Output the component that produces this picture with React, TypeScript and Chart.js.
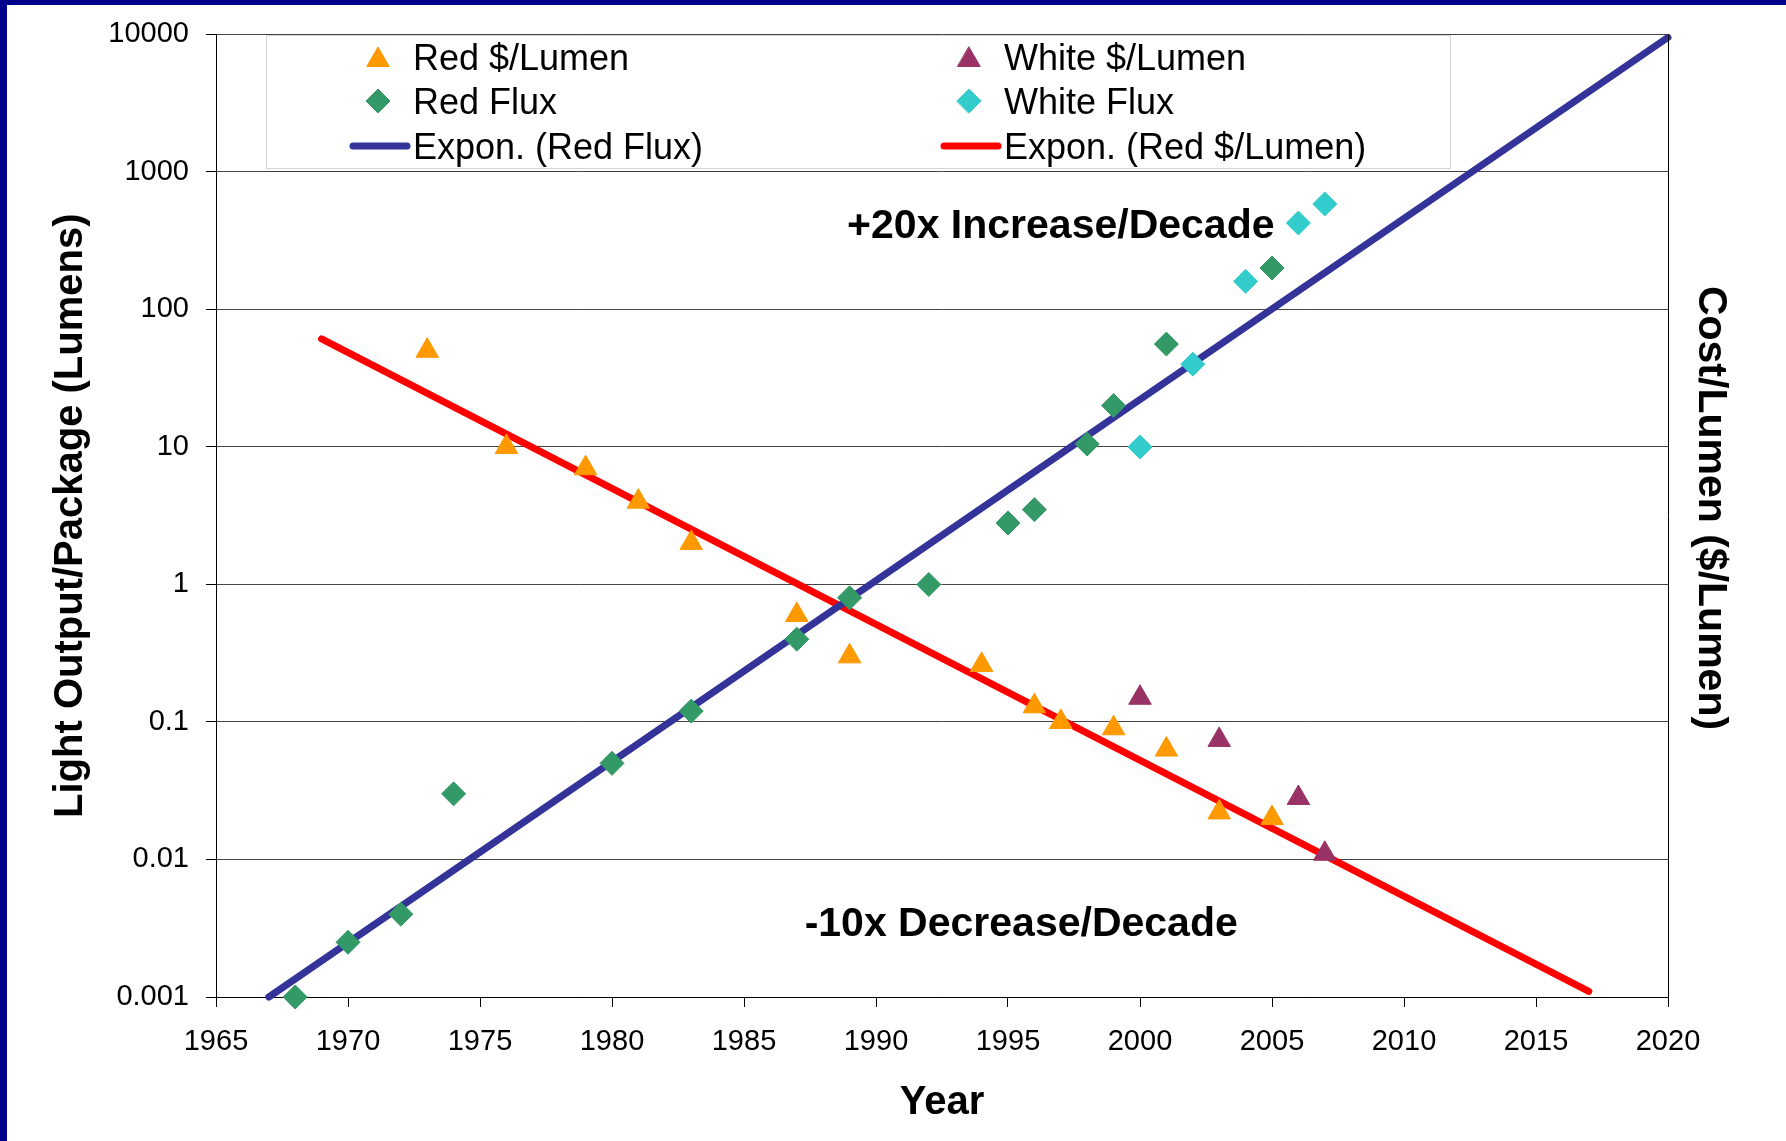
import React, { useEffect, useRef } from 'react';
import { Chart, registerables } from 'chart.js';
import { drawPoint } from 'chart.js/helpers';

Chart.register(...registerables);

const FONT = "'Liberation Sans', Arial, Helvetica, sans-serif";

// ---- data ----
const redCostYears = [1973, 1976, 1979, 1981, 1983, 1987, 1989, 1994, 1996, 1997, 1999, 2001, 2003, 2005];
const redCostValues = [50, 10, 7, 4, 2, 0.6, 0.3, 0.26, 0.13, 0.1, 0.09, 0.063, 0.022, 0.02];
const whiteCostYears = [2000, 2003, 2006, 2007];
const whiteCostValues = [0.15, 0.074, 0.028, 0.011];
const redFluxYears = [1968, 1970, 1972, 1974, 1980, 1983, 1987, 1989, 1992, 1995, 1996, 1998, 1999, 2001, 2005];
const redFluxValues = [0.001, 0.0025, 0.004, 0.03, 0.05, 0.12, 0.4, 0.8, 1, 2.8, 3.5, 10.5, 20, 56, 200];
const whiteFluxYears = [2000, 2002, 2004, 2006, 2007];
const whiteFluxValues = [10, 40, 160, 425, 585];
const fluxTrendYears = [1967, 2020];
const fluxTrendValues = [0.001, 9500];
const costTrendYears = [1969, 2017];
const costTrendValues = [61, 0.0011];

const xTickValues = [1965, 1970, 1975, 1980, 1985, 1990, 1995, 2000, 2005, 2010, 2015, 2020];
const yTickValues = [0.001, 0.01, 0.1, 1, 10, 100, 1000, 10000];
const yTickLabels = ['0.001', '0.01', '0.1', '1', '10', '100', '1000', '10000'];

const seriesLabels = [
  'Red $/Lumen',
  'White $/Lumen',
  'Red Flux',
  'White Flux',
  'Expon. (Red Flux)',
  'Expon. (Red $/Lumen)',
];

const titleLeft = 'Light Output/Package (Lumens)';
const titleRight = 'Cost/Lumen ($/Lumen)';
const titleBottom = 'Year';
const annotationTexts = ['+20x Increase/Decade', '-10x Decrease/Decade'];
const annotationYears = [1997, 1995.5];
const annotationValues = [330, 0.0028];

// ---- colours ----
const ORANGE = '#FF9900';
const PURPLE = '#993366';
const GREEN = '#339966';
const CYAN = '#33CCCC';
const BLUE = '#333399';
const RED = '#FF0000';
const NAVY = '#00008B';

const toPoints = (xs: number[], ys: number[]) => xs.map((x, i) => ({ x, y: ys[i] }));

export default function App() {
  const ref = useRef<HTMLCanvasElement>(null);

  useEffect(() => {
    const canvas = ref.current;
    if (!canvas) return;

    const decor = {
      id: 'decor',
      beforeDraw(chart: any) {
        const { ctx, width, height } = chart;
        ctx.save();
        ctx.fillStyle = '#ffffff';
        ctx.fillRect(0, 0, width, height);
        ctx.restore();
      },
      afterDraw(chart: any) {
        const { ctx, chartArea } = chart;
        const xs = chart.scales.x;
        const ys = chart.scales.y;
        ctx.save();

        // right border of plot
        ctx.strokeStyle = '#000';
        ctx.lineWidth = 1;
        const rx = Math.floor(chartArea.right) + 0.5;
        ctx.beginPath();
        ctx.moveTo(rx, chartArea.top);
        ctx.lineTo(rx, chartArea.bottom);
        ctx.stroke();

        // legend box
        const lbLeft = 266.5;
        const lbTop = Math.floor(chartArea.top) + 1.5;
        const lbRight = 1450.5;
        const lbBottom = 168.5;
        ctx.fillStyle = '#fff';
        ctx.fillRect(lbLeft, lbTop, lbRight - lbLeft, lbBottom - lbTop);
        ctx.strokeStyle = '#d4d4d4';
        ctx.strokeRect(lbLeft, lbTop, lbRight - lbLeft, lbBottom - lbTop);

        const legendFont = 36;
        const rowsCap = [57, 101, 146];
        const colText = [413, 1004];
        const ds = chart.data.datasets;
        const layout = [
          { d: 0, col: 0, row: 0 },
          { d: 2, col: 0, row: 1 },
          { d: 4, col: 0, row: 2 },
          { d: 1, col: 1, row: 0 },
          { d: 3, col: 1, row: 1 },
          { d: 5, col: 1, row: 2 },
        ];
        ctx.font = `${legendFont}px ${FONT}`;
        ctx.textAlign = 'left';
        ctx.textBaseline = 'alphabetic';
        for (const it of layout) {
          const d = ds[it.d];
          const tx = colText[it.col];
          const cy = rowsCap[it.row];
          if (d.showLine) {
            ctx.strokeStyle = d.borderColor;
            ctx.lineWidth = 7;
            ctx.lineCap = 'round';
            ctx.beginPath();
            ctx.moveTo(tx - 60, cy);
            ctx.lineTo(tx - 6, cy);
            ctx.stroke();
          } else {
            ctx.fillStyle = d.backgroundColor;
            ctx.strokeStyle = d.borderColor;
            ctx.lineWidth = 1;
            drawPoint(ctx, { pointStyle: d.pointStyle, radius: d.pointRadius, rotation: 0, borderWidth: 1 }, tx - 35, cy + (d.pointStyle === 'triangle' ? 3 : 0));
          }
          ctx.fillStyle = '#000';
          ctx.fillText(d.label, tx, cy + legendFont * 0.358);
        }

        // annotations
        ctx.font = `bold 41px ${FONT}`;
        ctx.fillStyle = '#000';
        ctx.textAlign = 'center';
        ctx.textBaseline = 'alphabetic';
        annotationTexts.forEach((t, i) => {
          ctx.fillText(t, xs.getPixelForValue(annotationYears[i]), ys.getPixelForValue(annotationValues[i]));
        });

        // axis titles
        ctx.font = `bold 40px ${FONT}`;
        ctx.textBaseline = 'middle';
        ctx.textAlign = 'center';
        ctx.fillText(titleBottom, (chartArea.left + chartArea.right) / 2, 1103);

        ctx.save();
        ctx.translate(71, (chartArea.top + chartArea.bottom) / 2);
        ctx.rotate(-Math.PI / 2);
        ctx.fillText(titleLeft, 0, 0);
        ctx.restore();

        ctx.font = `bold 41px ${FONT}`;
        ctx.save();
        ctx.translate(1710, 508);
        ctx.rotate(Math.PI / 2);
        ctx.fillText(titleRight, 0, 0);
        ctx.restore();

        // navy frame (top and left)
        ctx.fillStyle = NAVY;
        ctx.fillRect(0, 0, chart.width, 5);
        ctx.fillRect(0, 0, 7, chart.height);

        ctx.restore();
      },
    };

    const scatterDs = (label: string, xs: number[], ys: number[], color: string, style: string, r: number) => ({
      label,
      data: toPoints(xs, ys),
      showLine: false,
      pointStyle: style,
      pointRadius: r,
      pointHoverRadius: r,
      backgroundColor: color,
      borderColor: color,
      pointBorderWidth: 1,
      clip: false,
    });

    const trendDs = (label: string, xs: number[], ys: number[], color: string) => ({
      label,
      data: toPoints(xs, ys),
      showLine: true,
      pointRadius: 0,
      pointHoverRadius: 0,
      borderColor: color,
      backgroundColor: color,
      borderWidth: 7,
      borderCapStyle: 'round',
      fill: false,
      clip: false,
    });

    const chart = new Chart(canvas, {
      type: 'scatter',
      data: {
        datasets: [
          scatterDs(seriesLabels[0], redCostYears, redCostValues, ORANGE, 'triangle', 13),
          scatterDs(seriesLabels[1], whiteCostYears, whiteCostValues, PURPLE, 'triangle', 13),
          scatterDs(seriesLabels[2], redFluxYears, redFluxValues, GREEN, 'rectRot', 12),
          scatterDs(seriesLabels[3], whiteFluxYears, whiteFluxValues, CYAN, 'rectRot', 12),
          trendDs(seriesLabels[4], fluxTrendYears, fluxTrendValues, BLUE),
          trendDs(seriesLabels[5], costTrendYears, costTrendValues, RED),
        ] as any,
      },
      options: {
        responsive: false,
        animation: false,
        events: [],
        layout: { padding: { top: 32, right: 118, left: 0, bottom: 0 } },
        plugins: {
          legend: { display: false },
          tooltip: { enabled: false },
        },
        scales: {
          x: {
            type: 'linear',
            min: 1965,
            max: 2020,
            afterBuildTicks: (s: any) => {
              s.ticks = xTickValues.map((v) => ({ value: v }));
            },
            afterFit: (s: any) => {
              s.height = 144;
            },
            ticks: {
              autoSkip: false,
              maxRotation: 0,
              minRotation: 0,
              padding: 18,
              color: '#000',
              font: { family: FONT, size: 29 },
              callback: (v: any) => String(v),
            },
            grid: {
              drawOnChartArea: false,
              drawTicks: true,
              tickLength: 10,
              tickColor: '#000',
            },
            border: { display: true, color: '#000', width: 1 },
          },
          y: {
            type: 'logarithmic',
            min: 0.001,
            max: 10000,
            afterBuildTicks: (s: any) => {
              s.ticks = yTickValues.map((v) => ({ value: v }));
            },
            afterFit: (s: any) => {
              s.width = 216;
            },
            ticks: {
              autoSkip: false,
              padding: 17,
              color: '#000',
              font: { family: FONT, size: 29 },
              callback: (_v: any, i: number) => yTickLabels[i],
            },
            grid: {
              drawOnChartArea: true,
              color: '#444',
              lineWidth: 1,
              drawTicks: true,
              tickLength: 10,
              tickColor: '#000',
            },
            border: { display: true, color: '#000', width: 1 },
          },
        },
      } as any,
      plugins: [decor],
    });

    return () => chart.destroy();
  }, []);

  return (
    <div style={{ position: 'fixed', left: 0, top: 0, width: 1786, height: 1141, background: '#fff' }}>
      <canvas ref={ref} width={1786} height={1141} style={{ display: 'block', width: 1786, height: 1141 }} />
    </div>
  );
}
